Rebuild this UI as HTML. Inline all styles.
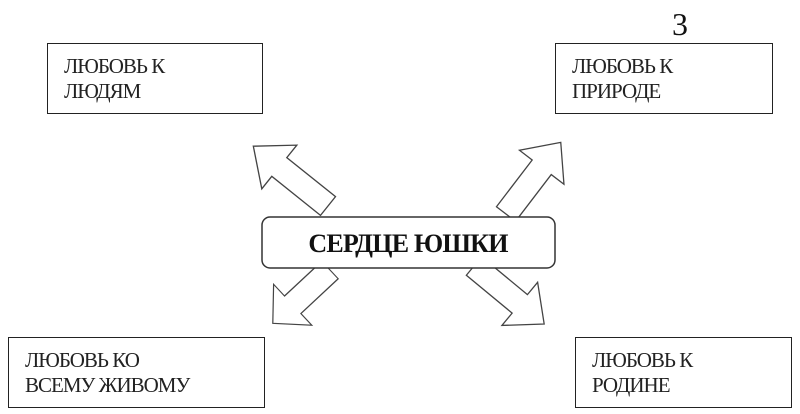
<!DOCTYPE html>
<html><head><meta charset="utf-8"><style>
body{margin:0;width:800px;height:414px;background:#fff;position:relative;overflow:hidden;font-family:"Liberation Serif",serif;}
.b{position:absolute;border:1.5px solid #222;box-sizing:border-box;font-size:21px;line-height:25px;color:#222;padding:10px 0 0 16px;letter-spacing:-1px}
</style></head><body>
<svg width="800" height="414" style="position:absolute;left:0;top:0">
<defs><polygon id="ar" points="0,-12 60,-12 60,-28 92,0 60,28 60,12 0,12" fill="#fff" stroke="#444" stroke-width="1.3" stroke-linejoin="miter"/></defs>
<use href="#ar" transform="translate(328,206) rotate(218.7) scale(1.04,1)"/>
<use href="#ar" transform="translate(506,214) rotate(-52.6) scale(0.98,1)"/>
<use href="#ar" transform="translate(330,270) rotate(137) scale(0.85,1)"/>
<use href="#ar" transform="translate(474,266) rotate(39.6) scale(0.99,1)"/>
<rect x="262" y="217" width="293" height="51" rx="8" fill="#fff" stroke="#333" stroke-width="1.5"/>
<text x="408" y="252" text-anchor="middle" font-family="Liberation Serif" font-weight="bold" font-size="26" fill="#111" letter-spacing="-0.8">СЕРДЦЕ ЮШКИ</text>
<text x="680" y="35" text-anchor="middle" font-family="Liberation Serif" font-size="32" fill="#111">3</text>
</svg>
<div class="b" style="left:47px;top:43px;width:216px;height:71px">ЛЮБОВЬ К<br>ЛЮДЯМ</div>
<div class="b" style="left:555px;top:43px;width:218px;height:71px">ЛЮБОВЬ К<br>ПРИРОДЕ</div>
<div class="b" style="left:8px;top:337px;width:257px;height:71px">ЛЮБОВЬ КО<br>ВСЕМУ ЖИВОМУ</div>
<div class="b" style="left:575px;top:337px;width:217px;height:71px">ЛЮБОВЬ К<br>РОДИНЕ</div>
</body></html>
